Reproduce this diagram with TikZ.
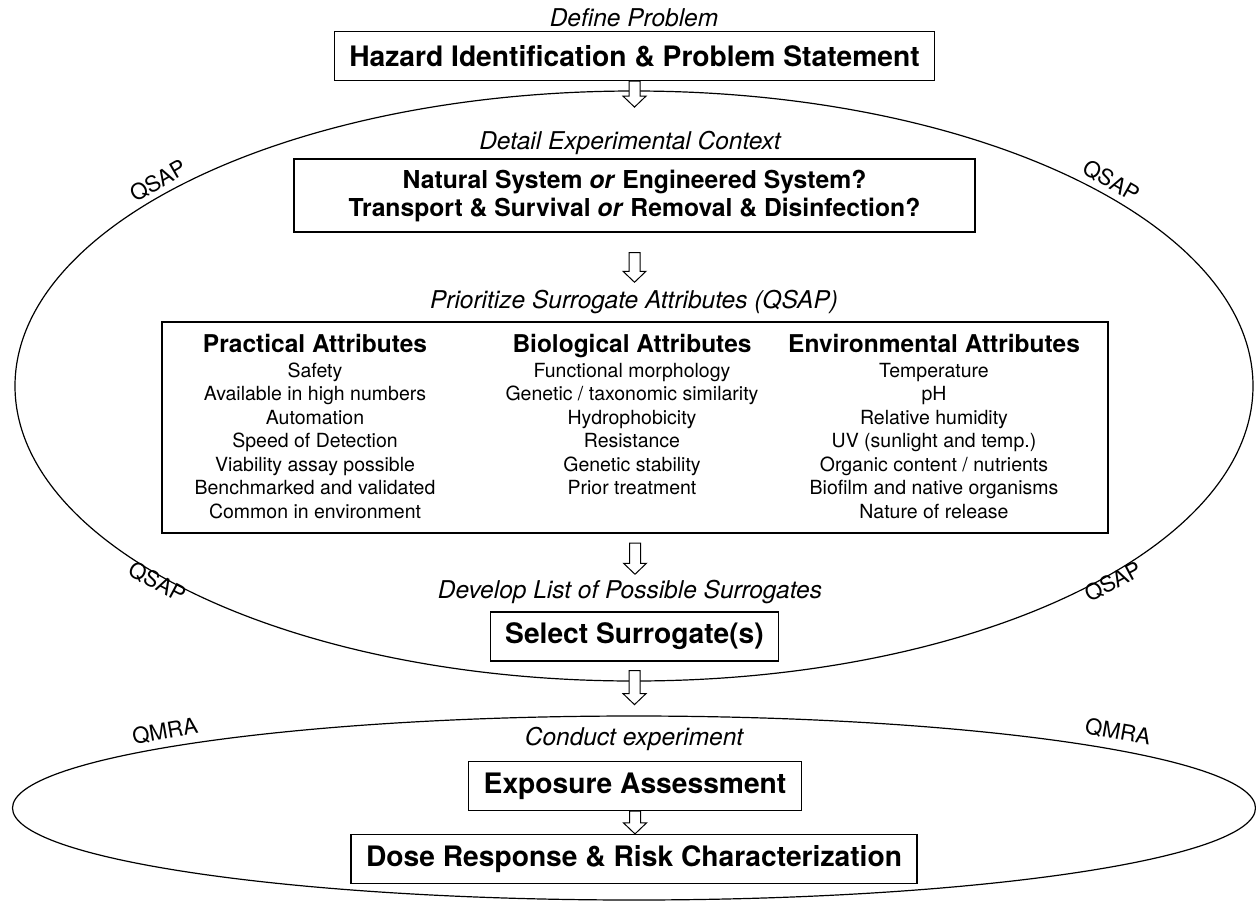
\documentclass[tikz,border=0pt]{standalone}
\usepackage{fontspec}
\setmainfont{TeX Gyre Heros}
\usetikzlibrary{calc}

\begin{document}
\begin{tikzpicture}[x=1pt, y=-1pt, line width=1.2pt]

    \tikzset{%
    stepbox/.style={
        draw,
        minimum height=49pt,
        inner xsep=15pt,
        font=\fontsize{28.2}{34}\selectfont\bfseries
        },
    phase/.style={font=\fontsize{24.5}{29}\selectfont\itshape},
    head/.style={font=\fontsize{24.5}{29}\selectfont\bfseries, anchor=base},
    item/.style={font=\fontsize{19.5}{23}\selectfont, anchor=base},
    loop tag/.style={font=\fontsize{22}{26}\selectfont},
    hollow/.style={
        draw, fill=white, line width=1pt,
        to path={let \p1=(\tikztostart), \p2=(\tikztotarget) in
          (\x1-5.5pt,\y1) -- (\x1-5.5pt,\y2+11pt) -- (\x1-11.5pt,\y2+11pt)
          -- (\x1,\y2) -- (\x1+11.5pt,\y2+11pt) -- (\x1+5.5pt,\y2+11pt)
          -- (\x1+5.5pt,\y1) -- cycle}
        },
    }

    \useasboundingbox (0,0) rectangle (1256,903);

    % The two loops
    \draw (634,386) ellipse [x radius=619, y radius=295];
    \draw (634,808) ellipse [x radius=621.5, y radius=92];

    % Loop labels
    \node [loop tag, rotate=30] (qsap-1) at (158,181) {QSAP};
    \node [loop tag, rotate=-30] (qsap-2) at (1111,181) {QSAP};
    \node [loop tag, rotate=-28] (qsap-3) at (157,582) {QSAP};
    \node [loop tag, rotate=28] (qsap-4) at (1113,582) {QSAP};
    \node [loop tag, rotate=10] (qmra-1) at (165,731) {QMRA};
    \node [loop tag, rotate=-10] (qmra-2) at (1118,732) {QMRA};

    % Steps
    \node [phase] (define) at (634,18) {Define Problem};
    \node [stepbox] (haz) at (634.5,56) {Hazard Identification \& Problem Statement};

    \node [phase] (detail) at (630,143) {Detail Experimental Context};
    \node [draw, minimum width=681pt, minimum height=73pt, align=center,
        font=\fontsize{24.7}{28}\selectfont\bfseries] (ctx) at (634.5,195.5)
        {Natural System \textit{or} Engineered System?\\
         Transport \& Survival \textit{or} Removal \& Disinfection?};

    \node [phase] (prio) at (634,302) {Prioritize Surrogate Attributes (QSAP)};

    % Attribute frame
    \draw (162,322) rectangle (1108,533);
    \coordinate (attr-s) at (635,533);

    % Attribute columns
    \node [head] (prac-h) at (315,352) {Practical Attributes};
    \node [head] (bio-h) at (632,352) {Biological Attributes};
    \node [head] (env-h) at (934,352) {Environmental Attributes};

    \foreach \t [count=\i] in {Safety, Available in high numbers, Automation,
        Speed of Detection, Viability assay possible, Benchmarked and validated,
        Common in environment}
    \node [item] (prac-\i) at (315,377+\i*23.5-23.5) {\t};

    \foreach \t [count=\i] in {Functional morphology, Genetic / taxonomic similarity,
        Hydrophobicity, Resistance, Genetic stability, Prior treatment}
    \node [item] (bio-\i) at (632,377+\i*23.5-23.5) {\t};

    \foreach \t [count=\i] in {Temperature, pH, Relative humidity,
        UV (sunlight and temp.), Organic content / nutrients,
        Biofilm and native organisms, Nature of release}
    \node [item] (env-\i) at (934,377+\i*23.5-23.5) {\t};

    \node [phase] (develop) at (630,592) {Develop List of Possible Surrogates};
    \node [stepbox] (sel) at (634.5,636.5) {Select Surrogate(s)};

    \node [phase] (conduct) at (634,739) {Conduct experiment};
    \node [stepbox] (expo) at (635,786) {Exposure Assessment};
    \node [stepbox] (dose) at (634,859) {Dose Response \& Risk Characterization};

    % Hollow arrows between the steps
    \draw [hollow] (haz.south) to ([yshift=-26pt]haz.south);
    \draw [hollow] ([yshift=-20pt]ctx.south) to ([yshift=4pt]prio.north);
    \draw [hollow] ([yshift=-10pt]attr-s) to ([yshift=2pt]develop.north);
    \draw [hollow] ([yshift=-9pt]sel.south) to ([yshift=-43pt]sel.south);
    \draw [hollow] (expo.south) to (dose.north);

\end{tikzpicture}
\end{document}
